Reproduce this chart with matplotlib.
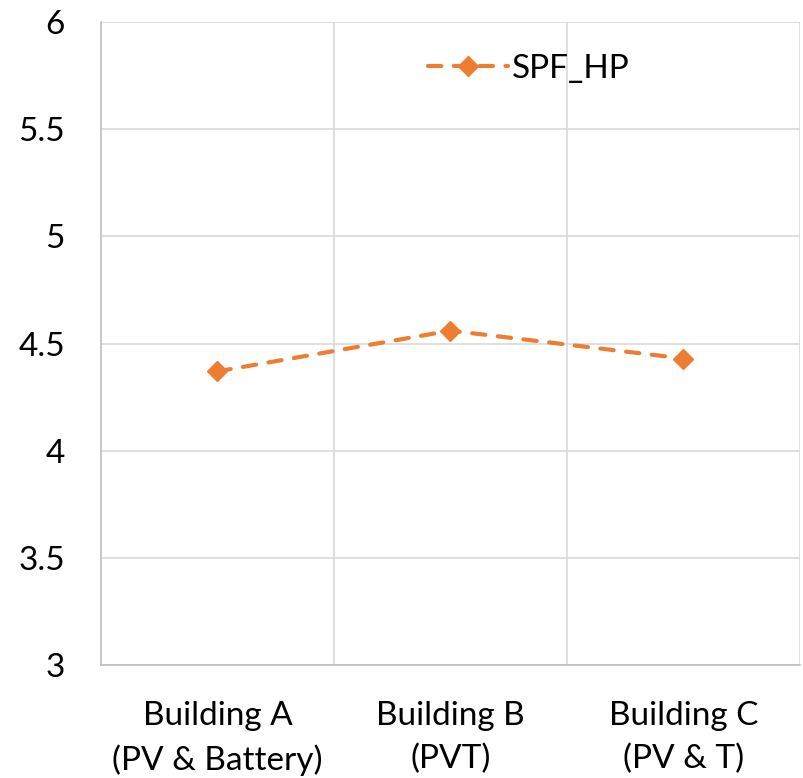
import matplotlib
matplotlib.use("Agg")
import matplotlib.pyplot as plt
from matplotlib.ticker import FixedLocator

categories = ["Building A\n(PV & Battery)", "Building B\n(PVT)", "Building C\n(PV & T)"]
spf_hp = [4.37, 4.56, 4.43]
yticks = [3, 3.5, 4, 4.5, 5, 5.5, 6]
ytick_labels = ["3", "3.5", "4", "4.5", "5", "5.5", "6"]

plt.rcParams['font.family'] = ['Lato', 'DejaVu Sans']
fig = plt.figure(figsize=(8.04, 7.78), dpi=100)
ax = fig.add_axes([101/804, 1-665/778, 699/804, 643/778])

x = list(range(len(categories)))
ax.plot(x, spf_hp, color="#ED7D31", linestyle=(0, (3.2, 3.0)), linewidth=3.0,
        marker="D", markersize=10, label="SPF_HP", dash_capstyle="round")

ax.set_xlim(-0.5, len(categories) - 0.5)
ax.set_ylim(3, 6)
ax.set_yticks(yticks)
ax.set_yticklabels(ytick_labels)
ax.set_xticks(x)
ax.set_xticklabels(categories, linespacing=1.5)
ax.xaxis.set_minor_locator(FixedLocator([i + 0.5 for i in x]))

ax.grid(axis="y", color="#D9D9D9", linewidth=1.2)
ax.grid(axis="x", which="minor", color="#D9D9D9", linewidth=1.2)
ax.set_axisbelow(True)

for s in ["top", "right"]:
    ax.spines[s].set_visible(False)
for s in ["left", "bottom"]:
    ax.spines[s].set_color("#BFBFBF")
    ax.spines[s].set_linewidth(1.2)

ax.tick_params(axis="both", which="both", length=0, labelsize=24, colors="black")
ax.tick_params(axis="y", pad=26)
ax.tick_params(axis="x", pad=26)

leg = ax.legend(loc="upper center", bbox_to_anchor=(0.612, 0.997), frameon=False,
                fontsize=24, handlelength=2.4, handletextpad=0.1)

fig.savefig("out.png", dpi=100)
